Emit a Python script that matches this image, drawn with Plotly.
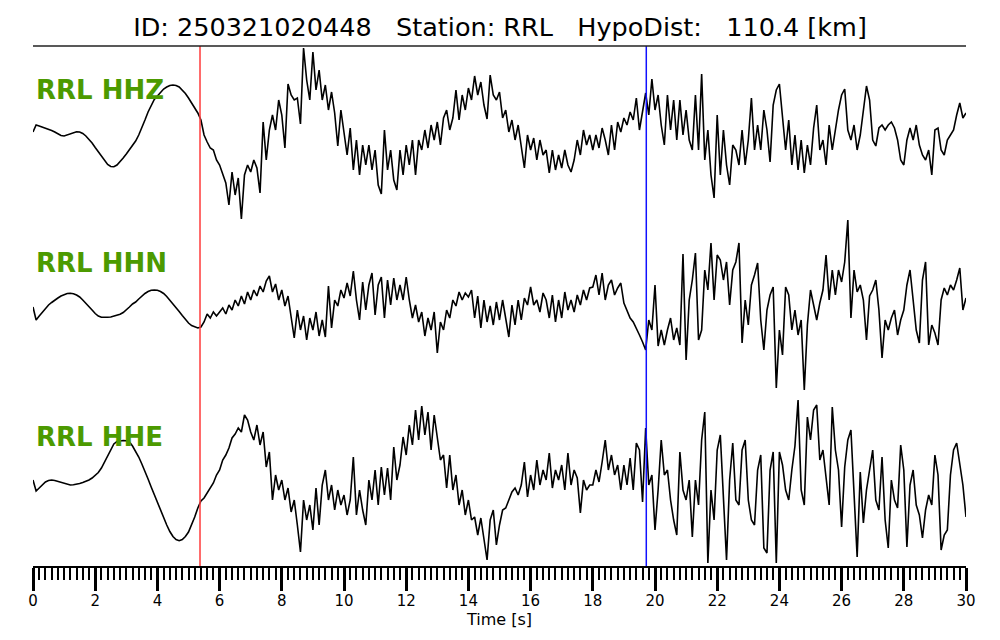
import numpy as np
import plotly.graph_objects as go

# ---------------- data ----------------
station = "RRL"
event_id = "250321020448"
hypo_dist_km = 110.4
sample_interval_s = 0.1
p_pick_s = 5.37
s_pick_s = 19.72
channels = ["HHZ", "HHN", "HHE"]

# amplitudes (arbitrary units), one row per second
hhz = [
    -2, 5, 4, 3, 2, 1, -0.5, -2, -4, -5.5,
    -6, -5, -3.5, -2.3, -1.7, -2, -3.5, -6, -9, -13,
    -17.5, -22, -26.5, -31, -34.5, -36.5, -36.7, -35, -32, -28,
    -24, -20, -15.5, -11, -5, 2, 10, 18, 25, 30.5,
    34, 38, 41, 43, 44.5, 45, 44.5, 43, 40, 36.5,
    32, 27, 22, 17, 10, -5, -12, -18, -20, -30,
    -35, -45, -53, -75, -42, -65, -48, -89, -45, -35,
    -42, -30, -38, -63, 8, -30, 0, 15, 0, 30,
    15, -18, 46, 35, 30, 32, 6, 82, 50, 30,
    78, 40, 60, 30, 45, 20, 38, 17, -16, 20,
    -5, -25, 2, -40, -10, -45, -15, -35, -15, -40,
    -20, -55, -64, 0, -40, -20, -50, -60, -20, -45,
    -15, -35, -10, -45, -10, -20, 0, -18, 5, -10,
    8, -15, 12, 20, 0, 12, 40, 10, 35, 20,
    42, 30, 54, 35, 48, 25, 11, 55, 35, 30,
    38, 12, 20, -2, 10, -10, 5, -15, -38, -5,
    -20, -8, -30, -10, -25, -20, -43, -20, -40, -25,
    -38, -20, -35, -42, -30, -10, -25, 0, -15, -5,
    -20, -5, -18, 2, -10, -25, 5, -20, 8, -2,
    12, 5, 18, 10, 32, 0, 18, 37, 15, 51,
    20, 35, 5, -15, 35, 0, 30, -10, 30, -5,
    20, -10, -20, 35, -20, 56, -30, 0, -45, -68,
    15, -45, 0, -35, -55, -15, -20, -35, 0, -35,
    -10, 32, -20, 5, -20, 20, 0, -32, 25, 40,
    46, 15, -20, 10, -35, -5, -40, -10, -43, -15,
    -35, 2, 25, -20, -10, -35, 5, -20, 0, 20,
    35, 41, 0, -10, 5, -20, -5, 20, 44, 30,
    -10, -16, 2, 5, 0, 5, 8, 2, -10, -30,
    -35, -10, 2, -10, 5, -15, -25, -30, -20, -45,
    0, 2, -20, -25, -10, -5, 0, 15, 27, 12,
    17,
]

hhn = [
    3, -10, -6, -2, 2, 5, 7.5, 10, 12, 14,
    15.5, 16.5, 16.7, 16.3, 15, 13, 10, 7, 3.5, 0,
    -3.5, -6, -7.3, -7.5, -7.3, -7, -6.3, -5.5, -4.3, -2.5,
    0, 3, 6, 8, 11, 14, 16.5, 18.5, 19.7, 20,
    19.7, 18.5, 16.5, 13.5, 10, 6.5, 2.5, -1.5, -5.5, -9.5,
    -13, -15.5, -17, -18, -17, -12, -4, -8, -2, -6,
    -2, 2, -4, 5, 0, 10, 4, 14, 6, 18,
    10, 20, 14, 24, 18, 29, 34, 18, 26, 10,
    20, 4, 14, -8, -28, 0, -20, -6, -30, -8,
    -20, -2, -26, -10, -27, 24, -18, 10, 4, 20,
    12, 27, 14, 39, 10, -10, 28, 0, 25, 37,
    -5, 25, 33, -8, 30, 5, 32, 10, 25, 10,
    33, 10, -8, 5, -12, -2, -26, -8, -20, -2,
    -43, -12, -20, 0, -8, 10, 4, 18, 10, 17,
    13, 20, -8, 14, -18, 10, -12, 4, -15, 8,
    -10, 10, -8, -27, 5, -15, 10, -10, 12, 5,
    23, 5, 10, -2, 17, 10, -8, 15, -12, 10,
    -8, 18, 0, 10, -2, 15, 5, 20, 10, 22,
    23, 35, 15, 37, 10, 25, 30, 15, 22, 27,
    7, 0, -8, -12, -18, -25, -32, -40, -10, -20,
    25, -36, -20, -35, -20, -8, -30, -18, -35, 56,
    -50, 10, 30, 57, -30, -20, 40, 20, 67, 10,
    55, 50, 30, 48, 5, 40, 48, 67, -33, 10,
    -15, 25, 35, 47, -10, -40, 0, 15, 23, -78,
    -20, -45, 23, 15, -20, 0, -25, -10, -80, -15,
    20, 5, -10, 7, 20, 55, 10, 40, 15, 40,
    28, 48, 90, -8, 40, 18, 25, 10, -30, 14,
    20, 30, 0, -48, -10, -20, -8, 0, -25, -10,
    0, 25, 40, 10, -20, -33, 30, 48, -35, -15,
    -23, -35, 10, 22, 15, 25, 20, 30, 42, 0,
    12,
]

hhe = [
    10, -1, 2, 5, 8, 9.5, 10, 9.5, 8.5, 7.5,
    6.5, 5.5, 5, 5.2, 5.7, 6.5, 7.5, 8.5, 10, 12,
    14.5, 17.5, 22, 28, 35, 41.5, 46, 48.5, 49.3, 49.5,
    49.3, 48, 44, 39, 33, 26, 19, 11, 3, -5,
    -13, -20.5, -28, -35, -41.5, -46.5, -49.5, -50.7, -49.5, -46.5,
    -42, -35, -27, -18, -11, -8, -3, 2, 7, 15,
    20, 30, 35, 42, 52, 56, 62, 58, 75, 70,
    58, 50, 65, 45, 58, 23, 38, -10, 15, 0,
    10, -10, 2, -22, -10, -35, -62, -10, -30, -15,
    -40, 2, -35, 5, 20, -10, 5, -20, 0, -15,
    -5, -25, -10, 33, -25, 0, -20, -35, 10, -10,
    20, -15, 23, -5, 22, -10, 43, 10, 25, 53,
    35, 65, 45, 80, 50, 84, 55, 78, 40, 75,
    50, 30, 35, 2, 35, 0, 15, -15, 0, -25,
    -10, -30, -27, -45, -28, -50, -70, -30, -20, -55,
    -35, -20, -18, -10, -2, 2, -5, 5, 28, -7,
    15, 0, 30, 5, 20, 10, 37, 2, 20, 10,
    25, 0, 37, 5, 20, 12, -23, 10, 0, 5,
    5, 20, 8, 28, 50, 20, 35, 15, 25, 0,
    25, 5, 32, 0, 47, 40, -12, 62, 5, 15,
    -40, 0, 50, 15, 20, -10, -30, -45, 38, 0,
    -10, 10, -47, 10, -15, 50, 78, -73, 0, -30,
    40, 55, -10, -70, 10, 47, -10, -15, 40, 50,
    -10, -30, -35, 20, 35, -58, -63, 20, 38, -73,
    38, 25, 0, -10, 20, 44, 90, 0, -15, 73,
    50, 80, 85, 30, 40, 15, -15, 83, 40, 20,
    -37, 23, 50, 60, -5, -67, 18, -33, 0, 22,
    40, -10, -20, 33, -30, -58, 10, -10, -18, 45,
    20, -57, 5, 20, -15, -25, -48, -20, -5, -15,
    35, 15, -60, -45, -40, 15, 40, 47, 28, 5,
    -27,
]

traces = [hhz, hhn, hhe]
trace_offsets = [436, 256, 76]   # vertical position of each channel on the stack
x_ticks = list(range(0, 31, 2))

# ---------------- figure ----------------
fig = go.Figure()
for vals, off in zip(traces, trace_offsets):
    v = np.asarray(vals, dtype=float)
    t = np.arange(len(v)) * sample_interval_s
    fig.add_trace(go.Scatter(x=t, y=v + off, mode="lines",
                             line=dict(color="black", width=1.6),
                             hoverinfo="skip", showlegend=False))

label_y = [476, 303, 129]
for ch, ly in zip(channels, label_y):
    fig.add_annotation(x=0, xref="paper", y=ly, yref="y",
                       text=f"{station} {ch}", showarrow=False,
                       xanchor="left", yanchor="middle", xshift=1,
                       font=dict(family="DejaVu Sans", size=26,
                                 color="#4c9a00", weight="bold"))

fig.add_shape(type="line", x0=p_pick_s, x1=p_pick_s, y0=0, y1=1,
              xref="x", yref="paper", line=dict(color="#ff3b3b", width=1.5))
fig.add_shape(type="line", x0=s_pick_s, x1=s_pick_s, y0=0, y1=1,
              xref="x", yref="paper", line=dict(color="#1010ff", width=1.5))
fig.add_shape(type="line", x0=0, x1=1, y0=1, y1=1,
              xref="paper", yref="paper", line=dict(color="#222222", width=1.6))

nb = "\u00a0"
title = (f"ID: {event_id}{nb*3}Station: {station}{nb*3}"
         f"HypoDist:{nb*3}{hypo_dist_km:.1f} [km]")

fig.update_layout(
    width=1000, height=640,
    margin=dict(l=33, r=34, t=46, b=74),
    paper_bgcolor="white", plot_bgcolor="white",
    title=dict(text=title, x=0.5, xanchor="center", y=1 - 27 / 640,
               yanchor="middle",
               font=dict(family="DejaVu Sans", size=25.5, color="black")),
    xaxis=dict(range=[0, 30], tickvals=x_ticks, ticks="outside",
               ticklen=23, tickwidth=3, tickcolor="black",
               ticklabelstandoff=-3,
               showline=True, linecolor="black", linewidth=2,
               showgrid=False, zeroline=False,
               minor=dict(dtick=0.2, ticks="outside", ticklen=12,
                          tickwidth=2, tickcolor="black", showgrid=False),
               tickfont=dict(family="DejaVu Sans", size=15, color="black"),
               title=dict(text="Time [s]", standoff=0,
                          font=dict(family="DejaVu Sans", size=16,
                                    color="black"))),
    yaxis=dict(range=[0, 520], visible=False, showgrid=False,
               zeroline=False, fixedrange=True),
)

fig.write_html("out.html",
               config={"displayModeBar": False, "staticPlot": True},
               post_script="document.body.style.margin='0';"
                           "document.body.style.overflow='hidden';")
